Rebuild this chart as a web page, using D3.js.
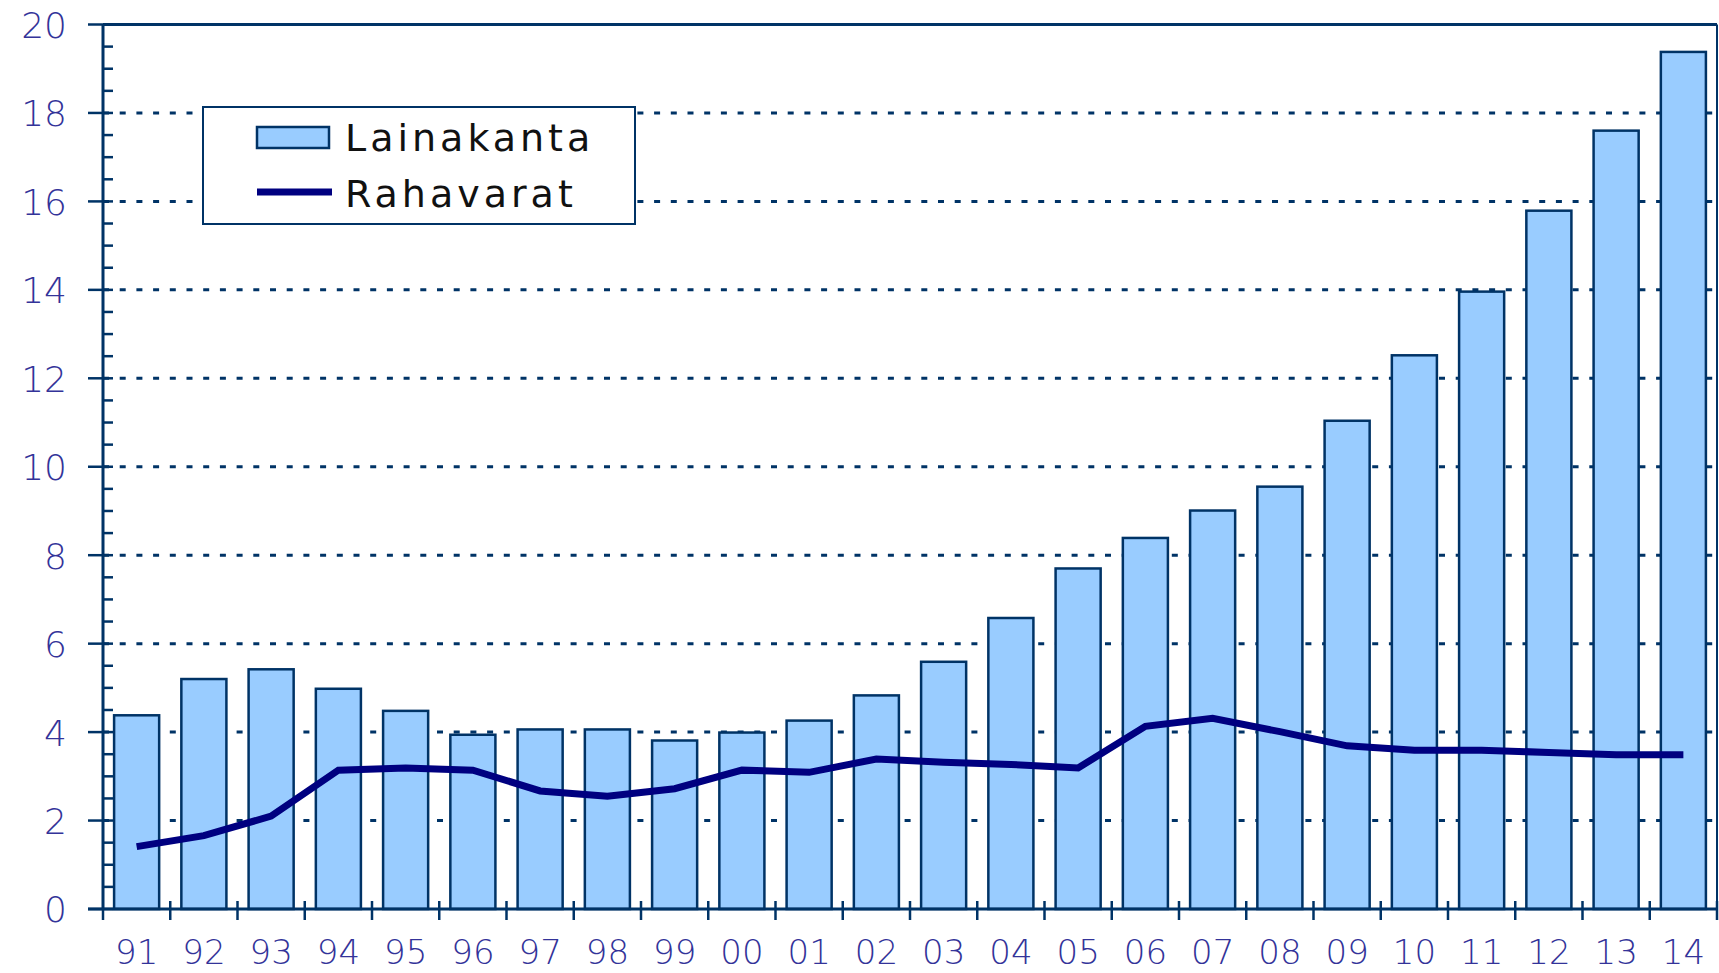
<!DOCTYPE html>
<html>
<head>
<meta charset="utf-8">
<script src="https://cdn.jsdelivr.net/npm/d3@7"></script>
<style>
  html, body { margin: 0; padding: 0; background: #ffffff; }
  svg { display: block; }
</style>
</head>
<body>
<svg id="chart" width="1719" height="973"></svg>
<script>
// ---- data ----
const years = ["91","92","93","94","95","96","97","98","99","00","01","02","03","04","05","06","07","08","09","10","11","12","13","14"];
const lainakanta = [4.38,5.20,5.42,4.98,4.48,3.94,4.06,4.06,3.81,3.99,4.26,4.83,5.59,6.58,7.70,8.39,9.01,9.55,11.04,12.52,13.96,15.79,17.60,19.38];
const rahavarat = [1.41,1.66,2.10,3.14,3.19,3.14,2.67,2.55,2.72,3.14,3.09,3.39,3.32,3.27,3.19,4.13,4.31,4.01,3.69,3.59,3.59,3.54,3.49,3.49];
const yTicks = [0,2,4,6,8,10,12,14,16,18,20];
const seriesNames = ["Lainakanta","Rahavarat"];

(function () {
// ---- layout ----
const svg = d3.select("#chart");
const pLeft = 103, pRight = 1717, pTop = 24.5, pBottom = 909;
const navy = "#003366", barFill = "#99CCFF", lineCol = "#000080", labelCol = "#333399";
const font = "'DejaVu Sans', sans-serif";

const x = d3.scaleBand().domain(years).range([pLeft, pRight]).paddingInner(0.33).paddingOuter(0.165);
const xb = d3.scaleBand().domain(years).range([pLeft, pRight]).padding(0);
const y = d3.scaleLinear().domain([0, 20]).range([pBottom, pTop]);

// gridlines (dotted)
svg.append("g").selectAll("line").data(yTicks.filter(d => d > 0 && d < 20)).join("line")
  .attr("x1", pLeft).attr("x2", pRight)
  .attr("y1", d => y(d)).attr("y2", d => y(d))
  .attr("stroke", navy).attr("stroke-width", 3)
  .attr("stroke-dasharray", "6,10.7");

// top and right border
svg.append("line").attr("x1", pLeft).attr("x2", pRight).attr("y1", y(20)).attr("y2", y(20))
  .attr("stroke", navy).attr("stroke-width", 3);
svg.append("line").attr("x1", pRight).attr("x2", pRight).attr("y1", y(20)).attr("y2", y(0))
  .attr("stroke", navy).attr("stroke-width", 2);

// bars
svg.append("g").selectAll("rect").data(years).join("rect")
  .attr("x", d => x(d))
  .attr("width", x.bandwidth())
  .attr("y", (d, i) => y(lainakanta[i]))
  .attr("height", (d, i) => y(0) - y(lainakanta[i]))
  .attr("fill", barFill).attr("stroke", navy).attr("stroke-width", 2.5);

// line
const line = d3.line().x((d, i) => x(years[i]) + x.bandwidth() / 2).y(d => y(d));
svg.append("path").datum(rahavarat).attr("d", line)
  .attr("fill", "none").attr("stroke", lineCol).attr("stroke-width", 7)
  .attr("stroke-linejoin", "miter");

// y axis
const yAxisMajor = d3.axisLeft(y).tickValues(yTicks).tickSize(0).tickFormat(d3.format("d"));
const yMinor = d3.range(0, 20.01, 0.5).filter(v => v % 2 !== 0);
const gy = svg.append("g");
gy.append("line").attr("x1", pLeft).attr("x2", pLeft).attr("y1", y(20)).attr("y2", y(0)).attr("stroke", navy).attr("stroke-width", 3);
gy.selectAll("line.minor").data(yMinor).join("line").attr("class", "minor")
  .attr("x1", pLeft).attr("x2", pLeft + 10).attr("y1", d => y(d)).attr("y2", d => y(d))
  .attr("stroke", navy).attr("stroke-width", 2.5);
gy.selectAll("line.major").data(yTicks).join("line").attr("class", "major")
  .attr("x1", pLeft - 15).attr("x2", pLeft + 10).attr("y1", d => y(d)).attr("y2", d => y(d))
  .attr("stroke", navy).attr("stroke-width", 2.5);
const gyl = svg.append("g").attr("transform", `translate(${pLeft - 36},0)`).call(yAxisMajor);
gyl.select(".domain").remove();
gyl.selectAll("text").attr("fill", labelCol).attr("font-family", font).attr("font-size", 36)
  .attr("x", 0).attr("dy", "0.36em").attr("font-weight", 300);

// x axis
svg.append("line").attr("x1", pLeft - 15).attr("x2", pRight).attr("y1", y(0)).attr("y2", y(0))
  .attr("stroke", navy).attr("stroke-width", 3);
svg.append("g").selectAll("line").data(years).join("line")
  .attr("x1", d => xb(d) + xb.bandwidth()).attr("x2", d => xb(d) + xb.bandwidth())
  .attr("y1", y(0) - 8).attr("y2", y(0) + 11)
  .attr("stroke", navy).attr("stroke-width", 2.5);
svg.append("line").attr("x1", pLeft).attr("x2", pLeft).attr("y1", y(0)).attr("y2", y(0) + 11)
  .attr("stroke", navy).attr("stroke-width", 2.5);
const xAxis = d3.axisBottom(x).tickSize(0).tickPadding(0);
const gx = svg.append("g").attr("transform", `translate(0,${pBottom + 55})`).call(xAxis);
gx.select(".domain").remove();
gx.selectAll("text").attr("fill", labelCol).attr("font-family", font).attr("font-size", 34)
  .attr("dy", "0").attr("font-weight", 300);

// legend
const lg = svg.append("g");
lg.append("rect").attr("x", 203).attr("y", 107).attr("width", 432).attr("height", 117)
  .attr("fill", "#ffffff").attr("stroke", navy).attr("stroke-width", 2);
lg.append("rect").attr("x", 257).attr("y", 127).attr("width", 72).attr("height", 21)
  .attr("fill", barFill).attr("stroke", navy).attr("stroke-width", 2.5);
lg.append("line").attr("x1", 257).attr("x2", 332).attr("y1", 192).attr("y2", 192)
  .attr("stroke", lineCol).attr("stroke-width", 7);
lg.selectAll("text").data(seriesNames).join("text")
  .attr("x", 345).attr("y", (d, i) => i === 0 ? 151 : 207)
  .attr("font-family", font).attr("font-size", 38).attr("letter-spacing", 4)
  .attr("fill", "#111111").text(d => d);
})();
</script>
</body>
</html>
